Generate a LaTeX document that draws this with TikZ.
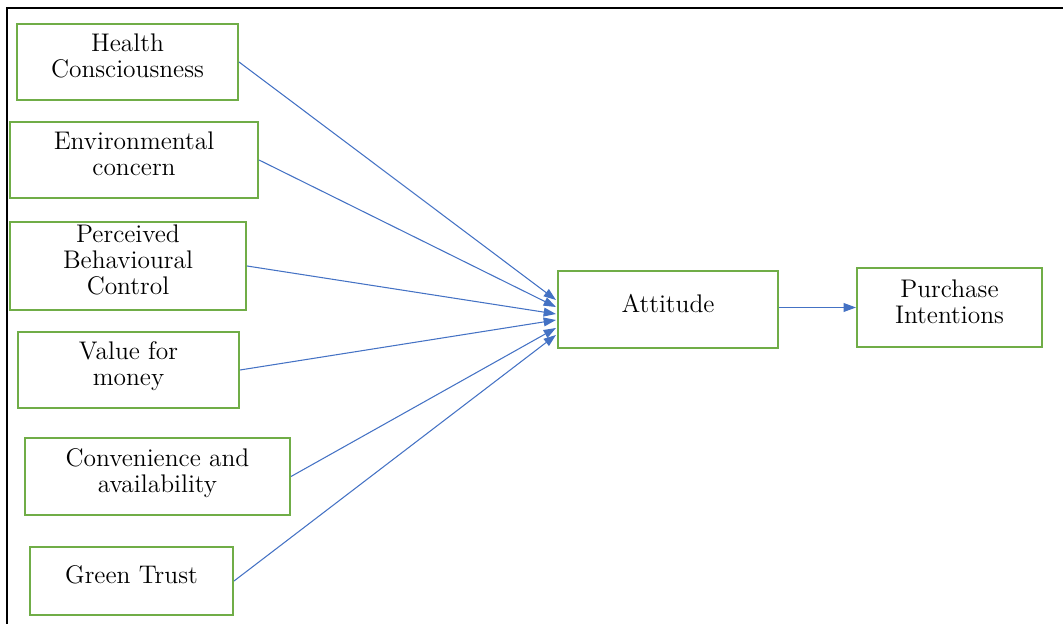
\documentclass[tikz,border=0pt]{standalone}
\usepackage{tikz}
\usetikzlibrary{arrows.meta, calc}

\definecolor{boxgreen}{RGB}{112,173,71}
\definecolor{linkblue}{RGB}{68,114,196}

\tikzset{
    factor/.style={draw=boxgreen, line width=1.2pt, align=center, inner xsep=2pt, inner ysep=1pt,
        text depth=7pt, font=\fontsize{14.5}{14.7}\selectfont},
    link/.style={-{Triangle[length=7pt,width=5pt]}, draw=linkblue, line width=0.6pt}
}

\begin{document}
\begin{tikzpicture}[x=0.02cm, y=-0.02cm]
        \useasboundingbox (0,0) rectangle (1063,624);

        % cornice
        \draw[line width=1.1pt] (7,624) -- (7,8) -- (1063,8);

        % fattori
        \node[factor, minimum width=4.42cm, minimum height=1.52cm] (hc)  at (127.5,62)  {Health\\Consciousness};
        \node[factor, minimum width=4.96cm, minimum height=1.52cm] (ec)  at (134,160)   {Environmental\\concern};
        \node[factor, minimum width=4.72cm, minimum height=1.76cm] (pbc) at (128,266)   {Perceived\\Behavioural\\Control};
        \node[factor, minimum width=4.42cm, minimum height=1.52cm] (vm)  at (128.5,370) {Value for\\money};
        \node[factor, minimum width=5.30cm, minimum height=1.54cm] (ca)  at (157.5,476.5) {Convenience and\\availability};
        \node[factor, minimum width=4.06cm, minimum height=1.36cm] (gt)  at (131.5,581) {Green Trust};

        % atteggiamento e intenzione
        \node[factor, minimum width=4.40cm, minimum height=1.54cm] (att) at (668,309.5) {Attitude};
        \node[factor, minimum width=3.70cm, minimum height=1.58cm] (pi)  at (949.5,307.5) {Purchase\\Intentions};

        % frecce
        \foreach \src/\dy in {hc/-9.5, ec/-2.5, pbc/4.5, vm/10.5, ca/18.5, gt/25.5}
            \draw[link] (\src.east) -- ($(att.west)+(-1,\dy)$);
        \draw[link] ([yshift=0.04cm]att.east) -- ([yshift=0.04cm]att.east -| pi.west);
\end{tikzpicture}
\end{document}
